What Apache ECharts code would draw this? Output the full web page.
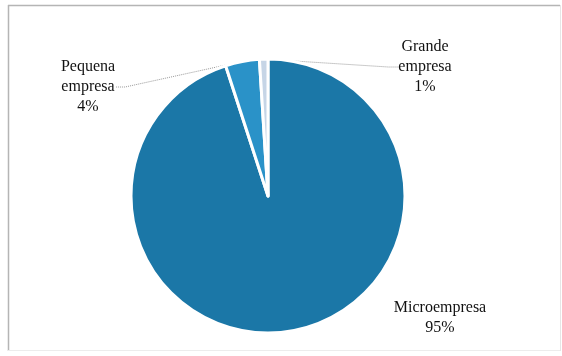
<!DOCTYPE html>
<html>
<head>
<meta charset="utf-8">
<script src="https://cdn.jsdelivr.net/npm/echarts@6/dist/echarts.min.js"></script>
<style>html,body{margin:0;padding:0;background:#fff;}#c{width:562px;height:356px;}</style>
</head>
<body>
<div id="c"></div>
<script>
const categories = ['Microempresa', 'Pequena empresa', 'Grande empresa'];
const values = [95, 4, 1];

const colors = ['#1b77a7', '#2a92c8', '#c6d5e6'];
const labelSpots = [
  {x: 440, y: 318},
  {x: 88, y: 87},
  {x: 425, y: 67}
];

const chart = echarts.init(document.getElementById('c'), null, {renderer: 'canvas'});
chart.setOption({
  animation: false,
  backgroundColor: '#fff',
  graphic: [
    {type: 'line', shape: {x1: 8.5, y1: 5, x2: 8.5, y2: 351}, style: {stroke: '#b5b5b5', lineWidth: 1.5}},
    {type: 'line', shape: {x1: 8, y1: 5.5, x2: 560, y2: 5.5}, style: {stroke: '#b5b5b5', lineWidth: 1.5}},
    {type: 'line', shape: {x1: 560.5, y1: 5, x2: 560.5, y2: 351}, style: {stroke: '#e6e6e6', lineWidth: 1}},
    {type: 'line', shape: {x1: 8, y1: 350.5, x2: 560, y2: 350.5}, style: {stroke: '#ececec', lineWidth: 1}}
  ],
  series: [{
    type: 'pie',
    center: [268, 196],
    radius: [0, 137],
    startAngle: 90,
    clockwise: true,
    percentPrecision: 0,
    avoidLabelOverlap: false,
    itemStyle: {borderColor: '#fff', borderWidth: 3},
    label: {
      show: true,
      position: 'outside',
      fontFamily: 'Liberation Serif',
      fontSize: 16,
      lineHeight: 20,
      color: '#111',
      align: 'center',
      formatter: p => p.name.replace(' ', '\n') + '\n' + p.percent + '%'
    },
    labelLine: {
      show: true,
      length: 10,
      length2: 10,
      smooth: false,
      lineStyle: {color: '#999', width: 1, type: 'dotted'}
    },
    labelLayout: function (params) {
      const s = labelSpots[params.dataIndex];
      return {x: s.x, y: s.y, align: 'center', verticalAlign: 'middle'};
    },
    data: categories.map((c, i) => ({
      name: c,
      value: values[i],
      itemStyle: {color: colors[i]},
      labelLine: {show: i !== 0}
    }))
  }]
});
</script>
</body>
</html>
